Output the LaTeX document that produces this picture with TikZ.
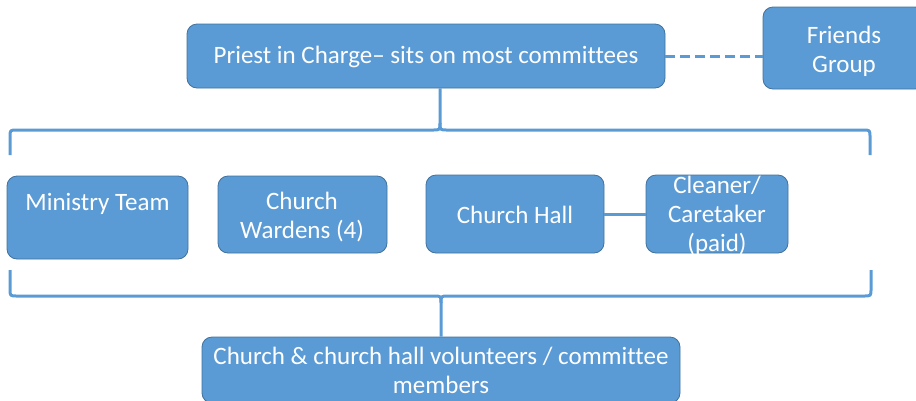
\documentclass[tikz,border=0pt]{standalone}
\usepackage{fontspec}
\setmainfont{Carlito}[Ligatures=NoCommon]
\definecolor{boxfill}{HTML}{5B9BD5}
\definecolor{boxline}{HTML}{41719C}
\begin{document}
\begin{tikzpicture}[x=1pt,y=-1pt,
  box/.style={draw=boxline, line width=0.8pt, fill=boxfill, rounded corners=10pt, inner sep=0pt},
  txt/.style={text=white, align=center, inner sep=0pt, font=\fontsize{25}{29}\selectfont},
  link/.style={draw=boxfill, line width=3pt},
  brace/.style={draw=boxfill, line width=3pt, line join=round}]
\useasboundingbox (0,0) rectangle (916,400);
% boxes
\node[box, minimum width=478pt, minimum height=64pt] (priest) at (426,56) {};
\node[txt] (priestT) at (426,57) {Priest in Charge– sits on most committees};
\node[box, minimum width=162pt, minimum height=82pt] (friends) at (844,48) {};
\node[txt] (friendsT) at (844,51.5) {Friends\\Group};
\node[box, minimum width=181pt, minimum height=83pt] (ministry) at (97.5,217.5) {};
\node[txt] (ministryT) at (97.5,204) {Ministry Team};
\node[box, minimum width=169pt, minimum height=77pt] (wardens) at (302.5,214.5) {};
\node[txt] (wardensT) at (302,217) {Church\\Wardens (4)};
\node[box, minimum width=178pt, minimum height=78pt] (hall) at (515,214) {};
\node[txt] (hallT) at (515,215) {Church Hall};
\node[box, minimum width=142pt, minimum height=78pt] (cleaner) at (717,214) {};
\node[txt] (cleanerT) at (717,216) {Cleaner/\\Caretaker\\(paid)};
\node[box, minimum width=478pt, minimum height=66pt] (vol) at (441,370) {};
\node[txt] (volT) at (441,370) {Church \& church hall volunteers / committee\\members};
% connectors
\draw[link, dash pattern=on 10pt off 5pt] (priest.east) -- (priest.east -| friends.west);
\draw[link] (hall.east) -- (cleaner.west);
% top brace
\coordinate (tcusp) at (440,123);
\draw[brace] (10,155) -- (10,137) .. controls (10,130) .. (17,130) -- (433,130) .. controls (440,130) .. (tcusp)
  -- (tcusp |- priest.south);
\draw[brace] (870,155) -- (870,137) .. controls (870,130) .. (863,130) -- (447,130) .. controls (440,130) .. (tcusp);
% bottom brace
\coordinate (bcusp) at (441,303);
\draw[brace] (10,270) -- (10,289) .. controls (10,296) .. (17,296) -- (434,296) .. controls (441,296) .. (bcusp)
  -- (bcusp |- vol.north);
\draw[brace] (871,270) -- (871,289) .. controls (871,296) .. (864,296) -- (448,296) .. controls (441,296) .. (bcusp);
\end{tikzpicture}
\end{document}
